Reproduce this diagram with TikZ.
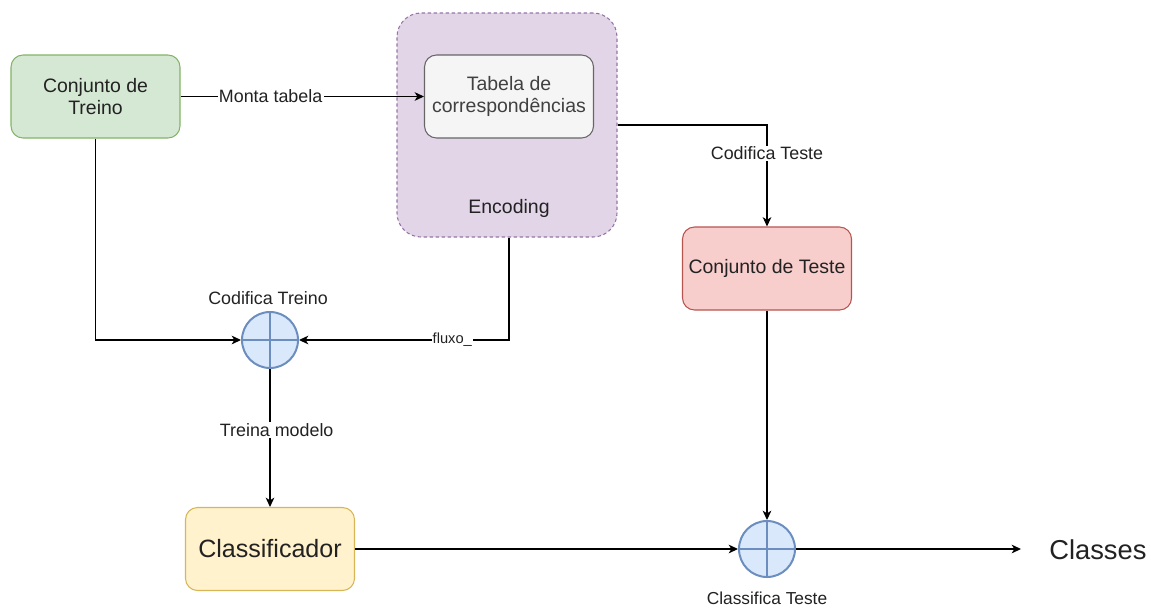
\documentclass[tikz,border=0pt]{standalone}
\usepackage{fontspec}
\setmainfont{Liberation Sans}
\usetikzlibrary{arrows.meta}
\definecolor{gfill}{HTML}{D5E8D4}\definecolor{gline}{HTML}{82B366}
\definecolor{pfill}{HTML}{E1D5E7}\definecolor{pline}{HTML}{9673A6}
\definecolor{tfill}{HTML}{F5F5F5}\definecolor{tline}{HTML}{666666}
\definecolor{rfill}{HTML}{F8CECC}\definecolor{rline}{HTML}{B85450}
\definecolor{yfill}{HTML}{FFF2CC}\definecolor{yline}{HTML}{D6B656}
\definecolor{bfill}{HTML}{DAE8FC}\definecolor{bline}{HTML}{6C8EBF}
\definecolor{txt}{HTML}{222222}
\tikzset{
  box/.style={draw, rounded corners=9pt, line width=0.8pt, align=center,
    minimum width=126.75pt, minimum height=62.25pt, inner sep=0pt, text=txt,
    font=\fontsize{14.6}{17}\selectfont},
  sumnode/.style={circle, draw=bline, fill=bfill, line width=1.5pt,
    minimum size=42pt, inner sep=0pt},
  conn/.style={line width=0.9pt, -{Stealth[length=7pt,width=6.5pt,inset=2pt]}},
  elabel/.style={fill=white, inner sep=1pt, text=txt, font=\fontsize{13.4}{16}\selectfont},
  plabel/.style={text=txt, font=\fontsize{13.4}{16}\selectfont}
}
\begin{document}
\begin{tikzpicture}[x=0.75pt,y=-0.75pt]
\useasboundingbox (0,0) rectangle (1151,607);
% nodes
\node[box, fill=gfill, draw=gline] (treino) at (95.5,96.5) {Conjunto de\\Treino};
\node[draw=pline, fill=pfill, dashed, dash pattern=on 2.5pt off 2pt, line width=0.8pt,
  rounded corners=18pt, minimum width=165pt, minimum height=168pt, inner sep=0pt] (enc) at (507,125) {};
\node[text=txt, font=\fontsize{14.6}{17}\selectfont] (enclabel) at (509,208) {Encoding};
\node[box, fill=tfill, draw=tline, text={black!75}] (tab) at (509,96.5) {Tabela de\\correspondências};
\node[box, fill=rfill, draw=rline] (teste) at (767,268.5) {Conjunto de Teste};
\node[sumnode] (ct) at (270,340) {};
\draw[bline, line width=1.5pt] (ct.north) -- (ct.south) (ct.west) -- (ct.east);
\node[plabel] (ctlabel) at (268,298) {Codifica Treino};
\node[box, fill=yfill, draw=yline, font=\fontsize{18.8}{22}\selectfont] (clf) at (270,549) {Classificador};
\node[sumnode] (cls) at (767,549) {};
\draw[bline, line width=1.5pt] (cls.north) -- (cls.south) (cls.west) -- (cls.east);
\node[plabel, font=\fontsize{13}{16}\selectfont] (clslabel) at (767,598) {Classifica Teste};
\node[text=txt, font=\fontsize{20.5}{24}\selectfont, anchor=west, inner sep=0pt] (classes) at (1049,550) {Classes};
\coordinate (classesend) at (1021,549);
% connectors
\draw[conn] (treino) -- node[elabel, pos=0.37] {Monta tabela} (tab);
\draw[conn] (enc.east) -| node[elabel, pos=0.64] {Codifica Teste} (teste.north);
\draw[conn] (treino.south) |- (ct.west);
\draw[conn] (tab |- enc.south) |- node[elabel, pos=0.635, font=\fontsize{11}{13}\selectfont, inner sep=0.5pt] {fluxo\_} (ct.east);
\draw[conn] (ct.south) -- node[elabel, pos=0.44, xshift=5pt] {Treina modelo} (clf.north);
\draw[conn] (clf.east) -- (cls.west);
\draw[conn] (teste.south) -- (cls.north);
\draw[conn] (cls.east) -- (classesend);
\end{tikzpicture}
\end{document}
